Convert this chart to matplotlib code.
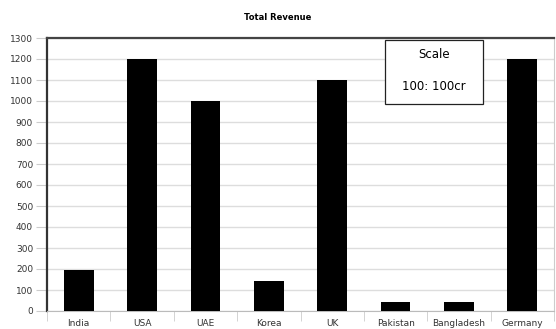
import numpy as np
import matplotlib
matplotlib.use("Agg")
import matplotlib.pyplot as plt
from matplotlib.patches import Rectangle

countries = ["India", "USA", "UAE", "Korea", "UK", "Pakistan", "Bangladesh", "Germany"]
revenue = [195, 1200, 1000, 145, 1100, 45, 45, 1200]
y_ticks = list(range(0, 1301, 100))

fig = plt.figure(figsize=(5.56, 3.29), dpi=100)
ax = fig.add_axes([47 / 556, 18 / 329, 507 / 556, 273 / 329])

x = np.arange(len(countries))
ax.bar(x, revenue, width=0.47, color="black", zorder=3)

ax.set_xlim(-0.5, len(countries) - 0.5)
ax.set_ylim(0, 1300)
ax.set_yticks(y_ticks)
ax.set_yticklabels([str(v) for v in y_ticks], fontsize=6.5, color="#333333")
ax.yaxis.grid(True, color="#dddddd", linewidth=1, zorder=0)
ax.tick_params(axis="y", length=8, color="#cccccc", pad=2)

# category labels in the middle, separator ticks on the boundaries
ax.set_xticks(x)
ax.set_xticklabels(countries, fontsize=6.5, color="#333333")
ax.tick_params(axis="x", which="major", length=0, pad=6)
ax.set_xticks(np.arange(len(countries) + 1) - 0.5, minor=True)
ax.tick_params(axis="x", which="minor", length=7, color="#cccccc")

ax.spines["left"].set_color("#333333")
ax.spines["left"].set_linewidth(1.6)
ax.spines["top"].set_color("#444444")
ax.spines["top"].set_linewidth(1.6)
ax.spines["right"].set_color("#cccccc")
ax.spines["bottom"].set_color("#bbbbbb")

fig.text(0.5, 1 - 17 / 329, "Total Revenue", ha="center", va="center",
         fontsize=6, fontweight="bold")

# scale box
ax.add_patch(Rectangle((0.667, 0.758), 0.193, 0.234, transform=ax.transAxes,
                       fc="white", ec="#222222", lw=0.9, zorder=5))
ax.text(0.7635, 0.938, "Scale", transform=ax.transAxes, ha="center",
        va="center", fontsize=8.5, zorder=6)
ax.text(0.7635, 0.822, "100: 100cr", transform=ax.transAxes, ha="center",
        va="center", fontsize=8.5, zorder=6)

fig.savefig("out.png", dpi=100)
